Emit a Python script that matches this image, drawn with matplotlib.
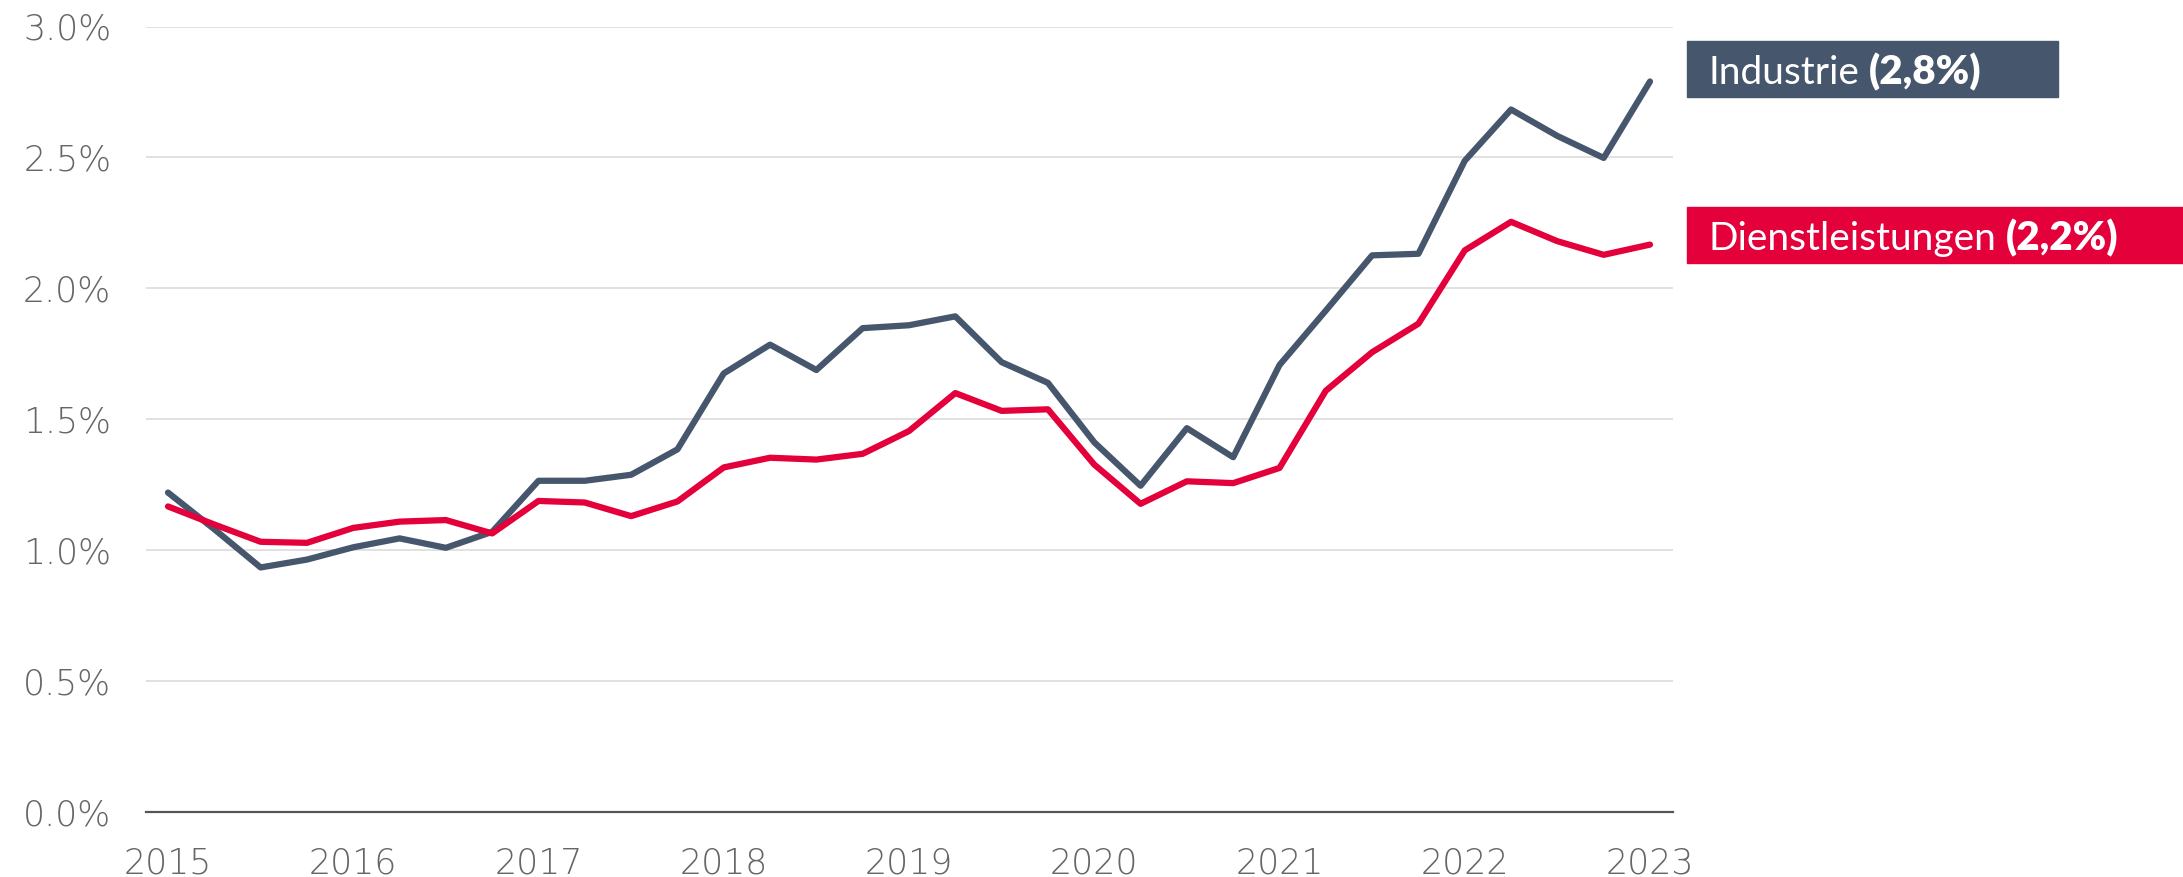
import matplotlib
matplotlib.use("Agg")
import matplotlib.pyplot as plt
from matplotlib.patches import Rectangle
import numpy as np
import pandas as pd

# quarterly series, 2015Q1 .. 2023Q1 (percent)
quarters = pd.period_range("2015Q1", "2023Q1", freq="Q")
industrie = [1.22, 1.08, 0.934, 0.964, 1.011, 1.045, 1.009, 1.07, 1.265, 1.265,
             1.288, 1.385, 1.675, 1.785, 1.688, 1.848, 1.859, 1.893, 1.718, 1.639,
             1.412, 1.246, 1.466, 1.355, 1.707, 1.915, 2.126, 2.132, 2.487, 2.683,
             2.582, 2.498, 2.79]
dienst = [1.167, 1.098, 1.032, 1.028, 1.085, 1.109, 1.115, 1.064, 1.188, 1.182,
          1.13, 1.186, 1.316, 1.353, 1.346, 1.368, 1.455, 1.60, 1.532, 1.538,
          1.327, 1.177, 1.263, 1.256, 1.314, 1.609, 1.756, 1.865, 2.145, 2.254,
          2.18, 2.128, 2.167]
years = [2015, 2016, 2017, 2018, 2019, 2020, 2021, 2022, 2023]
yticks = [0.0, 0.5, 1.0, 1.5, 2.0, 2.5, 3.0]
labels = [("Industrie", "(2,8%)"), ("Dienstleistungen", "(2,2%)")]

C_IND = "#46566c"
C_DL = "#e3003b"
GREY = "#666666"
FONT = "Lato"

x = quarters.year + (quarters.quarter - 1) / 4

W, H = 2183, 877
fig = plt.figure(figsize=(W / 100, H / 100), dpi=100)
ax = fig.add_axes([146 / W, (H - 812) / H, 1527 / W, 785.5 / H])

ax.plot(x, industrie, color=C_IND, lw=4.5, solid_joinstyle="round", solid_capstyle="round", zorder=3)
ax.plot(x, dienst, color=C_DL, lw=4.5, solid_joinstyle="round", solid_capstyle="round", zorder=3)

ax.set_xlim(2015 - 22 / 185.25, 2023 + 23 / 185.25)
ax.set_ylim(0, 3.0)
ax.set_xticks(years)
ax.set_xticklabels([str(y) for y in years])
ax.set_yticks(yticks)
ax.set_yticklabels([f"{v:.1f}%" for v in yticks])
ax.grid(axis="y", color="#dcdcdc", lw=1.2)
ax.set_axisbelow(True)
for s in ["top", "right", "left"]:
    ax.spines[s].set_visible(False)
ax.spines["bottom"].set_color("#555555")
ax.spines["bottom"].set_linewidth(1.6)
ax.tick_params(length=0, labelcolor=GREY, labelsize=25)
ax.tick_params(axis="y", pad=25)
ax.tick_params(axis="x", pad=25)
for t in ax.get_xticklabels() + ax.get_yticklabels():
    t.set_fontfamily("DejaVu Sans")
    t.set_fontweight(200)

# label boxes to the right
boxes = [(1687, 2058, 41, 97, C_IND), (1687, 2183, 207, 263, C_DL)]
renderer = fig.canvas.get_renderer()
for (x0, x1, y0, y1, col), (name, val) in zip(boxes, labels):
    fig.patches.append(Rectangle((x0 / W, 1 - y1 / H), (x1 - x0) / W, (y1 - y0) / H,
                                 transform=fig.transFigure, color=col, zorder=1))
    yc = 1 - (y0 + y1) / 2 / H
    t1 = fig.text(1708 / W, yc, name, color="white", fontsize=28, family=FONT,
                  weight="normal", va="center_baseline")
    bb = t1.get_window_extent(renderer)
    fig.text((bb.x1 + 10) / W, yc, val, color="white", fontsize=29, family=FONT,
             weight="heavy", va="center_baseline")

fig.savefig("out.png", dpi=100)
